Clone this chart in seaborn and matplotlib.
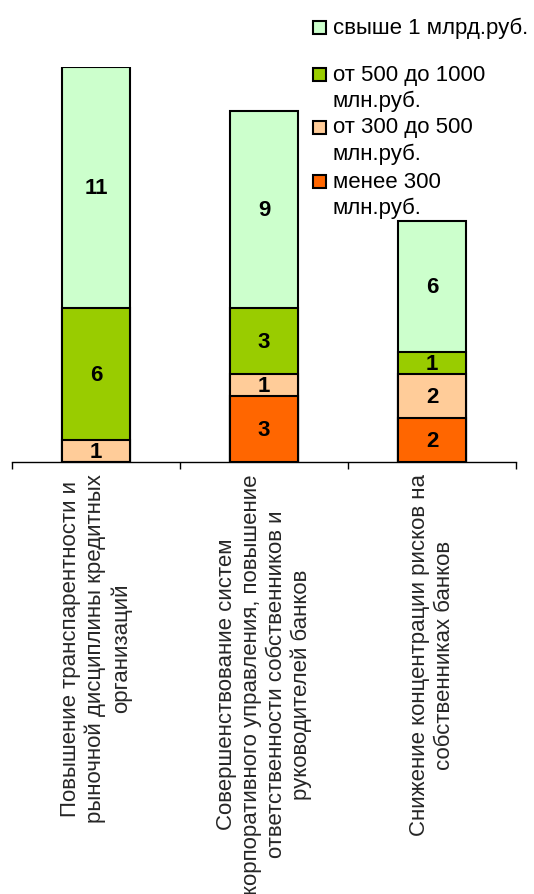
import numpy as np
import pandas as pd
import matplotlib
matplotlib.use("Agg")
import matplotlib.pyplot as plt
from matplotlib.patches import Rectangle
import seaborn as sns

# Measures (rotated category labels)
categories = [
    "Повышение транспарентности и\nрыночной дисциплины кредитных\nорганизаций",
    "Совершенствование систем\nкорпоративного управления, повышение\nответственности собственников и\nруководителей банков",
    "Снижение концентрации рисков на\nсобственниках банков",
]

# Stack segments from the bottom up
groups = ["менее 300 млн.руб.", "от 300 до 500 млн.руб.",
          "от 500 до 1000 млн.руб.", "свыше 1 млрд.руб."]
under_300 = [0, 3, 2]
from_300_to_500 = [1, 1, 2]
from_500_to_1000 = [6, 3, 1]
over_1bn = [11, 9, 6]

legend_labels = ["свыше 1 млрд.руб.", "от 500 до 1000\nмлн.руб.",
                 "от 300 до 500\nмлн.руб.", "менее 300\nмлн.руб."]

colors = ["#FF6600", "#FFCC99", "#99CC00", "#CCFFCC"]

sns.set_style("white")
plt.rcParams["font.family"] = ["Liberation Sans", "DejaVu Sans"]

W, H = 534, 895
fig = plt.figure(figsize=(W / 100, H / 100), dpi=100)
ax = fig.add_axes([12 / W, 1 - 463 / H, 504 / W, (463 - 68) / H])

series = [under_300, from_300_to_500, from_500_to_1000, over_1bn]
stack = np.cumsum(np.array(series), axis=0)
bottoms = np.vstack([np.zeros(len(categories)), stack[:-1]])

# Draw cumulative totals from the top layer down so each layer shows its segment
for k in range(len(series) - 1, -1, -1):
    df = pd.DataFrame({"cat": categories, "top": stack[k]})
    sns.barplot(data=df, x="cat", y="top", order=categories, color=colors[k],
                saturation=1, width=0.40, edgecolor="black", linewidth=1.5,
                ax=ax, zorder=2 + (len(series) - k))

for k, vals in enumerate(series):
    for i, v in enumerate(vals):
        if v > 0:
            ax.text(i, bottoms[k][i] + v / 2, str(v), ha="center", va="center",
                    fontsize=16, fontweight="bold", color="black", zorder=20)

ax.set_xlim(-0.5, 2.5)
ax.set_ylim(0, 18)
ax.set_xlabel("")
ax.set_ylabel("")
ax.set_yticks([])
for s in ["top", "left", "right"]:
    ax.spines[s].set_visible(False)
ax.spines["bottom"].set_color("black")
ax.spines["bottom"].set_linewidth(1.0)
ax.spines["bottom"].set_zorder(30)

ax.set_xticks(range(len(categories)))
ax.set_xticklabels(categories, rotation=90, fontsize=16, ha="center", va="top",
                   multialignment="center", linespacing=1.25)
ax.set_xticks(np.arange(-0.5, len(categories)), minor=True)
ax.tick_params(axis="x", which="major", bottom=False, length=0, pad=8)
ax.tick_params(axis="x", which="minor", bottom=True, length=5, width=1.0,
               color="black", direction="out")

# Legend: swatch beside the first line of each entry
entry_y = [28, 75, 128, 182]
line_gap = 26.5
for lab, col, y0 in zip(legend_labels, colors[::-1], entry_y):
    fig.patches.append(Rectangle((313 / W, 1 - (y0 + 6.5) / H), 13 / W, 13 / H,
                                 transform=fig.transFigure, facecolor=col,
                                 edgecolor="black", linewidth=1.5))
    for j, line in enumerate(lab.split("\n")):
        fig.text(333 / W, 1 - (y0 + j * line_gap) / H, line, fontsize=16,
                 ha="left", va="center", color="black")

fig.savefig("out.png", dpi=100, facecolor="white")
